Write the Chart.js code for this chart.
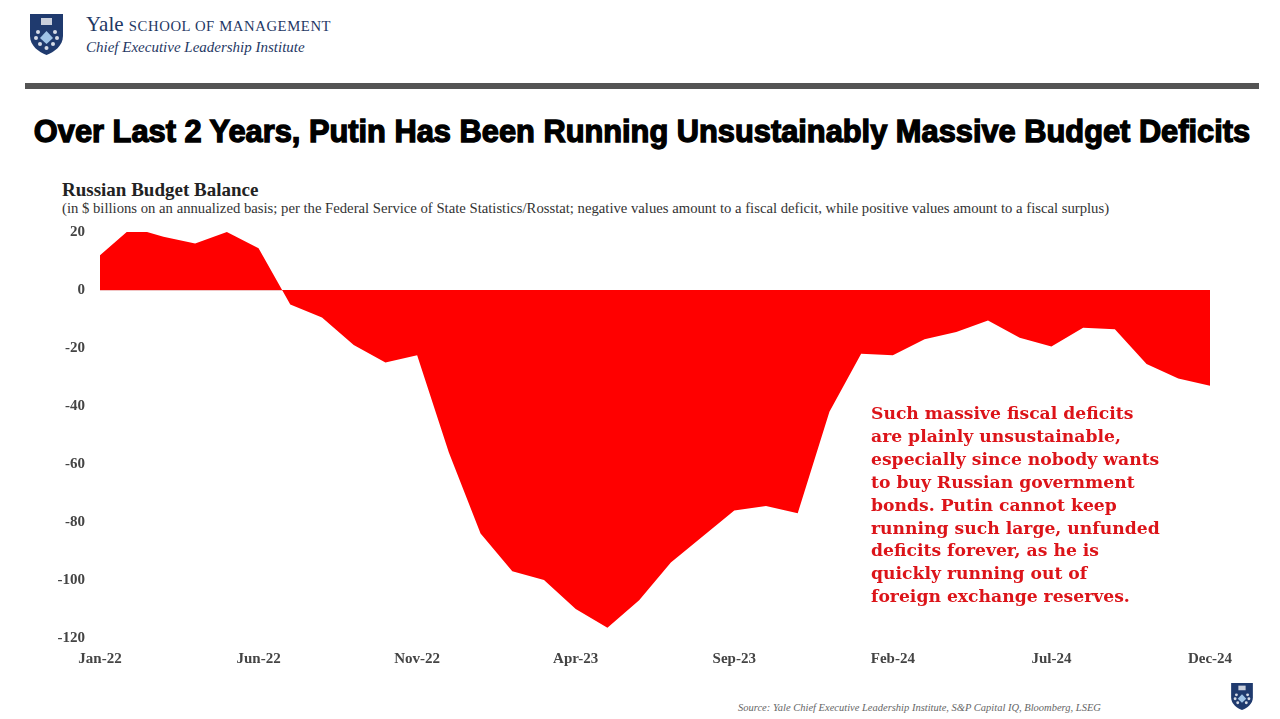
<!DOCTYPE html>
<html>
<head>
<meta charset="utf-8">
<script src="https://cdn.jsdelivr.net/npm/chart.js@4"></script>
<style>
body { margin:0; width:1280px; height:719px; background:#fff; position:relative; overflow:hidden; font-family:"Liberation Serif", serif; }
.abs { position:absolute; white-space:nowrap; }
#yale { left:86px; top:12px; color:#1f3864; font-size:21px; }
#yale span { font-size:14.7px; letter-spacing:0.6px; }
#celi { left:86px; top:39px; color:#1f3864; font-size:15px; font-style:italic; }
#rule { left:25px; top:83px; width:1234px; height:6px; background:#545454; }
#title { left:0; width:1284px; top:114px; text-align:center; font-family:"Liberation Sans", sans-serif; font-weight:bold; font-size:30.8px; color:#000; -webkit-text-stroke:1.3px #000; }
#ctitle { left:62px; top:179px; font-size:19px; font-weight:bold; color:#222; }
#csub { left:62px; top:200px; font-size:14.7px; color:#333; }
#note { left:871px; top:402px; font-family:"DejaVu Serif", serif; font-size:17.2px; font-weight:bold; color:#dc1419; line-height:22.9px; }
#src { left:738px; top:702px; font-size:10.5px; font-style:italic; color:#666; }
#chartbox { left:0; top:208px; width:1280px; height:470px; }
</style>
</head>
<body>
<svg class="abs" style="left:30px;top:14px" width="33" height="41" viewBox="0 0 33 41">
  <path d="M0 0 H33 V22 C33 32 24 38 16.5 41 C9 38 0 32 0 22 Z" fill="#1f3a6e"/>
  <rect x="11" y="4" width="11" height="7" fill="#c9cfdc"/>
  <circle cx="8" cy="18" r="2" fill="#d6dbe6"/><circle cx="25" cy="18" r="2" fill="#d6dbe6"/>
  <circle cx="6" cy="24" r="2" fill="#d6dbe6"/><circle cx="27" cy="24" r="2" fill="#d6dbe6"/>
  <circle cx="10" cy="30" r="2" fill="#d6dbe6"/><circle cx="23" cy="30" r="2" fill="#d6dbe6"/>
  <circle cx="16.5" cy="34" r="2" fill="#d6dbe6"/>
  <path d="M16.5 17 L23 24 L16.5 30 L10 24 Z" fill="#9fc3e6"/>
</svg>
<div class="abs" id="yale">Yale <span>SCHOOL OF MANAGEMENT</span></div>
<div class="abs" id="celi">Chief Executive Leadership Institute</div>
<div class="abs" id="rule"></div>
<div class="abs" id="title">Over Last 2 Years, Putin Has Been Running Unsustainably Massive Budget Deficits</div>
<div class="abs" id="ctitle">Russian Budget Balance</div>
<div class="abs" id="csub">(in $ billions on an annualized basis; per the Federal Service of State Statistics/Rosstat; negative values amount to a fiscal deficit, while positive values amount to a fiscal surplus)</div>
<div class="abs" id="chartbox"><canvas id="myChart" width="1280" height="470"></canvas></div>
<div class="abs" id="note">Such massive fiscal deficits<br>are plainly unsustainable,<br>especially since nobody wants<br>to buy Russian government<br>bonds. Putin cannot keep<br>running such large, unfunded<br>deficits forever, as he is<br>quickly running out of<br>foreign exchange reserves.</div>
<div class="abs" id="src">Source: Yale Chief Executive Leadership Institute, S&amp;P Capital IQ, Bloomberg, LSEG</div>
<svg class="abs" style="left:1231px;top:683px" width="22" height="27" viewBox="0 0 33 41">
  <path d="M0 0 H33 V22 C33 32 24 38 16.5 41 C9 38 0 32 0 22 Z" fill="#1f3a6e"/>
  <rect x="11" y="4" width="11" height="7" fill="#c9cfdc"/>
  <circle cx="8" cy="18" r="2.2" fill="#d6dbe6"/><circle cx="25" cy="18" r="2.2" fill="#d6dbe6"/>
  <circle cx="6" cy="24" r="2.2" fill="#d6dbe6"/><circle cx="27" cy="24" r="2.2" fill="#d6dbe6"/>
  <circle cx="10" cy="30" r="2.2" fill="#d6dbe6"/><circle cx="23" cy="30" r="2.2" fill="#d6dbe6"/>
  <path d="M16.5 17 L23 24 L16.5 30 L10 24 Z" fill="#9fc3e6"/>
</svg>
<script>
// monthly labels Jan-22 .. Dec-24
const months = [
  'Jan-22','Feb-22','Mar-22','Apr-22','May-22','Jun-22','Jul-22','Aug-22','Sep-22','Oct-22','Nov-22','Dec-22',
  'Jan-23','Feb-23','Mar-23','Apr-23','May-23','Jun-23','Jul-23','Aug-23','Sep-23','Oct-23','Nov-23','Dec-23',
  'Jan-24','Feb-24','Mar-24','Apr-24','May-24','Jun-24','Jul-24','Aug-24','Sep-24','Oct-24','Nov-24','Dec-24'
];
// budget balance, $bn annualized
const balance = [
  12, 21.5, 18.4, 16, 20, 14.4, -5, -9.5, -19, -25, -22.5, -56,
  -84, -97, -100, -110, -116.5, -107, -94, -85, -76, -74.5, -77, -42,
  -22, -22.5, -17, -14.5, -10.5, -16.5, -19.5, -13, -13.5, -25.5, -30.5, -33
];
const shownLabels = ['Jan-22','Jun-22','Nov-22','Apr-23','Sep-23','Feb-24','Jul-24','Dec-24'];
const yMin = -120, yMax = 20, yStep = 20;

const tickFont = { family: 'Liberation Serif', size: 15, weight: 'bold' };

const ctx = document.getElementById('myChart').getContext('2d');
const myChart = new Chart(ctx, {
    type: 'line',
    data: {
        labels: months,
        datasets: [{
            label: 'Russian Budget Balance',
            data: balance,
            backgroundColor: '#ff0000',
            borderColor: '#ff0000',
            borderWidth: 0,
            pointRadius: 0,
            tension: 0,
            fill: 'origin'
        }]
    },
    options: {
        responsive: false,
        animation: false,
        layout: { padding: { top: 0, right: 70, left: 0, bottom: 0 } },
        plugins: { legend: { display: false }, tooltip: { enabled: false } },
        scales: {
            x: {
                offset: false,
                grid: { display: false },
                border: { display: false },
                ticks: {
                    autoSkip: false,
                    maxRotation: 0,
                    padding: 4,
                    color: '#444',
                    font: tickFont,
                    callback: function(v, i) {
                        const l = months[i];
                        return shownLabels.includes(l) ? l : null;
                    }
                },
                afterFit: function(s) { s.height = 40; }
            },
            y: {
                z: 1,
                min: yMin,
                max: yMax,
                ticks: { stepSize: yStep, padding: 15, color: '#444', font: tickFont },
                grid: {
                    drawTicks: false,
                    color: function(c) { return c.tick && c.tick.value === 0 ? 'rgba(240,190,190,0.9)' : 'rgba(0,0,0,0)'; },
                    lineWidth: 1
                },
                border: { display: false },
                afterFit: function(s) { s.width = 100; }
            }
        }
    }
});
</script>
</body>
</html>
